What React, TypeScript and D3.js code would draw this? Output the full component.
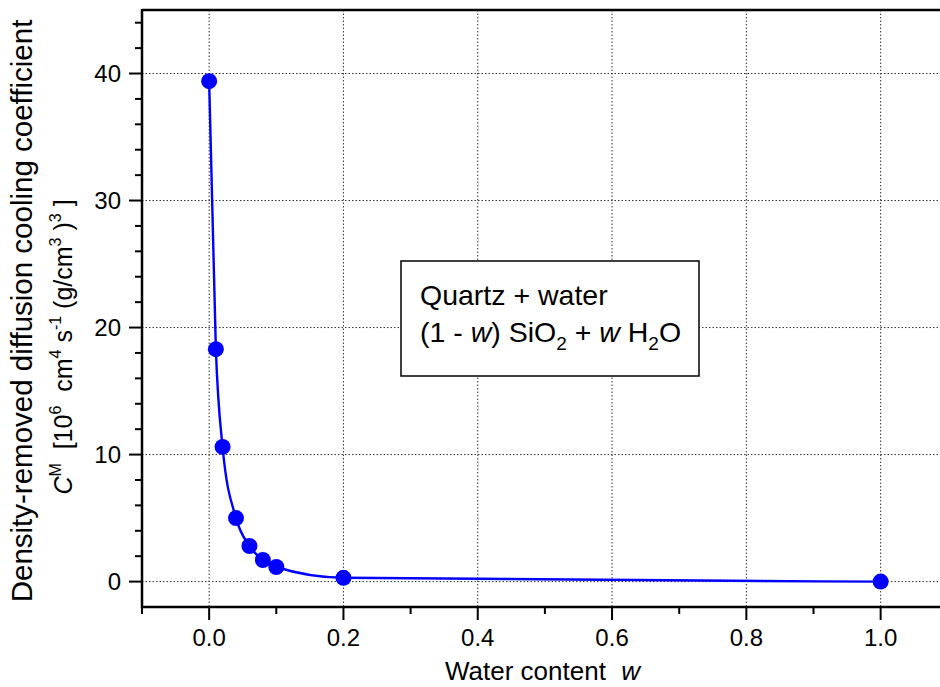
import React from "react";
import * as d3 from "d3";

const waterContent = [0, 0.01, 0.02, 0.04, 0.06, 0.08, 0.1, 0.2, 1.0];
const coolingCoef = [39.4, 18.3, 10.6, 5.0, 2.8, 1.7, 1.15, 0.3, 0.0];
const xTicks = [0, 0.2, 0.4, 0.6, 0.8, 1.0];
const xMinorTicks = [-0.1, 0.1, 0.3, 0.5, 0.7, 0.9];
const yTicks = [0, 10, 20, 30, 40];
const yMinorTicks = [2, 4, 6, 8, 12, 14, 16, 18, 22, 24, 26, 28, 32, 34, 36, 38, 42, 44];

const W = 940;
const H = 687;
const left = 142;
const top = 10;
const bottom = 607;
const font = "Arial, 'Liberation Sans', Helvetica, sans-serif";

export default function App() {
  const x = d3.scaleLinear().domain([-0.1, 1.1]).range([left, left + 1.2 * 671.5]);
  const y = d3.scaleLinear().domain([-2, 45]).range([bottom, top]);
  const right = x(1.1);
  const pts = waterContent.map((w, i) => [w, coolingCoef[i]] as [number, number]);
  const line = d3
    .line<[number, number]>()
    .x((d) => x(d[0]))
    .y((d) => y(d[1]))
    .curve(d3.curveMonotoneX);

  const sup = { fontSize: 16 };

  return (
    <svg
      width={W}
      height={H}
      style={{ position: "absolute", left: 0, top: 0, background: "#fff" }}
      fontFamily={font}
    >
      <rect x={0} y={0} width={W} height={H} fill="#fff" />
      {/* grid */}
      {xTicks.map((t) => (
        <line key={"gx" + t} x1={x(t)} x2={x(t)} y1={top} y2={bottom} stroke="#333" strokeWidth={1} strokeDasharray="1.5,2" />
      ))}
      {yTicks.map((t) => (
        <line key={"gy" + t} x1={left} x2={right} y1={y(t)} y2={y(t)} stroke="#333" strokeWidth={1} strokeDasharray="1.5,2" />
      ))}
      {/* legend box */}
      <rect x={401} y={261} width={298} height={115} fill="#fff" stroke="#000" strokeWidth={1.5} />
      <text x={420} y={305} fontSize={28.5} fill="#000">Quartz + water</text>
      <text x={420} y={342} fontSize={28.5} fill="#000">
        <tspan>(1 - </tspan>
        <tspan fontStyle="italic">w</tspan>
        <tspan>) SiO</tspan>
        <tspan fontSize={19} dy={8}>2</tspan>
        <tspan dy={-8}> + </tspan>
        <tspan fontStyle="italic">w</tspan>
        <tspan> H</tspan>
        <tspan fontSize={19} dy={8}>2</tspan>
        <tspan dy={-8}>O</tspan>
      </text>
      {/* data line */}
      <path d={line(pts) || ""} fill="none" stroke="#0000ff" strokeWidth={2.4} />
      {pts.map((d, i) => (
        <circle key={"p" + i} cx={x(d[0])} cy={y(d[1])} r={8} fill="#0000ff" />
      ))}
      {/* axes */}
      <line x1={left} x2={right} y1={top} y2={top} stroke="#000" strokeWidth={2.5} />
      <line x1={left} x2={left} y1={top - 1} y2={bottom + 1} stroke="#000" strokeWidth={2.5} />
      <line x1={left - 1} x2={right} y1={bottom} y2={bottom} stroke="#000" strokeWidth={2.5} />
      {xTicks.map((t) => (
        <g key={"xt" + t}>
          <line x1={x(t)} x2={x(t)} y1={bottom} y2={bottom + 13} stroke="#000" strokeWidth={2} />
          <text x={x(t)} y={bottom + 39} fontSize={24} textAnchor="middle" fill="#000">
            {d3.format(".1f")(t)}
          </text>
        </g>
      ))}
      {xMinorTicks.map((t) => (
        <line key={"xm" + t} x1={x(t)} x2={x(t)} y1={bottom} y2={bottom + 7} stroke="#000" strokeWidth={2} />
      ))}
      {yTicks.map((t) => (
        <g key={"yt" + t}>
          <line x1={left} x2={left - 13} y1={y(t)} y2={y(t)} stroke="#000" strokeWidth={2} />
          <text x={left - 21} y={y(t) + 8.5} fontSize={24} textAnchor="end" fill="#000">
            {t}
          </text>
        </g>
      ))}
      {yMinorTicks.map((t) => (
        <line key={"ym" + t} x1={left} x2={left - 7} y1={y(t)} y2={y(t)} stroke="#000" strokeWidth={2} />
      ))}
      {/* x title */}
      <text x={445} y={680} fontSize={26} fill="#000">
        <tspan>Water content </tspan>
        <tspan dx={8} fontStyle="italic">w</tspan>
      </text>
      {/* y title */}
      <g transform="translate(32,311) rotate(-90)">
        <text x={0} y={0} fontSize={29.5} textAnchor="middle" fill="#000">
          Density-removed diffusion cooling coefficient
        </text>
      </g>
      <g transform="translate(72,347) rotate(-90)">
        <text x={0} y={0} fontSize={25} textAnchor="middle" fill="#000">
          <tspan fontStyle="italic">C</tspan>
          <tspan {...sup} dy={-11}>M</tspan>
          <tspan dy={11}>{"\u00a0\u00a0[10"}</tspan>
          <tspan {...sup} dy={-11}>6</tspan>
          <tspan dy={11}>{"\u00a0\u00a0cm"}</tspan>
          <tspan {...sup} dy={-11}>4</tspan>
          <tspan dy={11}>{"\u00a0s"}</tspan>
          <tspan {...sup} dy={-11}>-1</tspan>
          <tspan dy={11}>{"\u00a0(g/cm"}</tspan>
          <tspan {...sup} dy={-11}>3</tspan>
          <tspan dy={11}>{"\u00a0)"}</tspan>
          <tspan {...sup} dy={-11}>3</tspan>
          <tspan dy={11}>{"\u00a0]"}</tspan>
        </text>
      </g>
    </svg>
  );
}
